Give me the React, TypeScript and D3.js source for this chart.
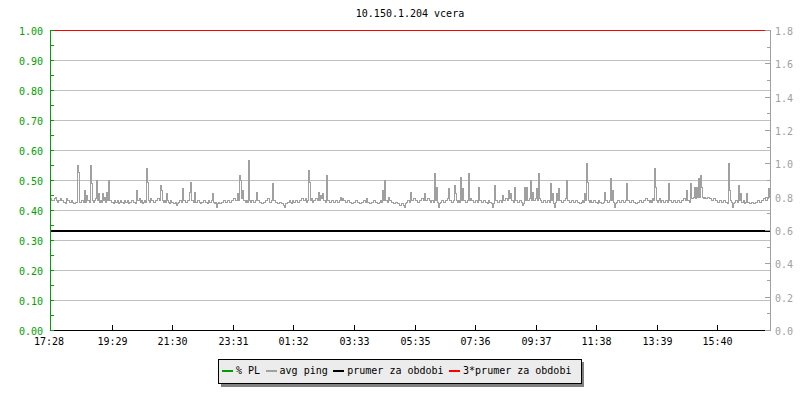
import React from "react";
import * as d3 from "d3";

// avg ping (ms, right axis), one value per 2 minutes starting 17:25:36
const PING: number[] = [
  0.79,0.78,0.78,0.78,0.79,0.80,0.78,0.77,0.78,0.78,0.79,0.78,0.78,0.77,0.77,0.76,0.79,0.78,0.78,0.77,0.77,0.78,0.77,0.76,0.76,0.77,0.77,0.99,0.95,0.77,0.77,0.78,0.78,0.77,0.84,0.77,0.81,0.78,0.78,0.77,
  0.99,0.88,0.78,0.77,0.78,0.79,0.90,0.78,0.82,0.77,0.78,0.77,0.82,0.78,0.80,0.77,0.83,0.78,0.90,0.78,0.78,0.77,0.77,0.76,0.78,0.77,0.77,0.78,0.76,0.77,0.78,0.77,0.77,0.76,0.78,0.77,0.77,0.78,0.76,0.77,
  0.77,0.78,0.78,0.77,0.77,0.76,0.84,0.78,0.78,0.79,0.77,0.78,0.76,0.77,0.78,0.77,0.97,0.89,0.78,0.77,0.79,0.78,0.78,0.77,0.77,0.78,0.78,0.79,0.79,0.78,0.87,0.84,0.78,0.77,0.78,0.77,0.82,0.78,0.77,0.76,
  0.78,0.77,0.77,0.76,0.76,0.77,0.75,0.76,0.77,0.78,0.78,0.77,0.85,0.78,0.78,0.77,0.77,0.78,0.78,0.83,0.89,0.78,0.78,0.77,0.83,0.77,0.77,0.78,0.78,0.77,0.76,0.77,0.77,0.78,0.78,0.77,0.77,0.76,0.78,0.77,
  0.77,0.78,0.82,0.77,0.76,0.77,0.74,0.76,0.77,0.76,0.76,0.77,0.77,0.78,0.78,0.77,0.77,0.78,0.78,0.77,0.77,0.78,0.78,0.79,0.79,0.78,0.78,0.82,0.78,0.93,0.90,0.79,0.84,0.78,0.78,0.77,0.78,0.77,1.02,0.78,
  0.77,0.78,0.78,0.77,0.77,0.78,0.83,0.78,0.78,0.77,0.77,0.76,0.76,0.77,0.77,0.78,0.78,0.79,0.79,0.77,0.77,0.78,0.88,0.78,0.78,0.77,0.77,0.76,0.76,0.77,0.77,0.76,0.76,0.75,0.74,0.76,0.76,0.77,0.77,0.78,
  0.77,0.76,0.78,0.77,0.77,0.78,0.78,0.77,0.77,0.78,0.78,0.79,0.79,0.78,0.78,0.79,0.77,0.78,0.96,0.89,0.78,0.79,0.77,0.78,0.78,0.79,0.79,0.78,0.83,0.78,0.81,0.79,0.82,0.78,0.78,0.77,0.93,0.78,0.78,0.77,
  0.77,0.78,0.78,0.77,0.77,0.78,0.78,0.77,0.77,0.78,0.80,0.78,0.79,0.78,0.78,0.77,0.77,0.78,0.78,0.77,0.77,0.76,0.76,0.77,0.77,0.78,0.78,0.77,0.77,0.76,0.76,0.77,0.77,0.78,0.78,0.77,0.79,0.77,0.77,0.76,
  0.76,0.77,0.77,0.78,0.78,0.77,0.77,0.76,0.76,0.77,0.78,0.77,0.84,0.78,0.90,0.78,0.78,0.77,0.80,0.78,0.78,0.77,0.77,0.76,0.76,0.77,0.77,0.76,0.76,0.75,0.75,0.76,0.76,0.75,0.74,0.76,0.77,0.78,0.78,0.77,
  0.83,0.78,0.78,0.79,0.79,0.78,0.78,0.77,0.77,0.78,0.78,0.79,0.79,0.78,0.82,0.78,0.78,0.79,0.79,0.78,0.77,0.78,0.78,0.77,0.94,0.78,0.86,0.77,0.74,0.76,0.77,0.78,0.78,0.77,0.77,0.78,0.78,0.79,0.85,0.78,
  0.78,0.77,0.77,0.78,0.87,0.82,0.78,0.77,0.78,0.77,0.92,0.78,0.85,0.78,0.78,0.77,0.77,0.78,0.94,0.78,0.79,0.78,0.78,0.77,0.77,0.78,0.78,0.77,0.86,0.78,0.78,0.77,0.77,0.78,0.78,0.77,0.77,0.76,0.78,0.77,
  0.77,0.76,0.74,0.76,0.87,0.78,0.78,0.77,0.77,0.78,0.78,0.77,0.81,0.78,0.78,0.79,0.79,0.78,0.84,0.79,0.82,0.78,0.78,0.77,0.86,0.78,0.78,0.77,0.77,0.78,0.78,0.77,0.75,0.76,0.86,0.78,0.86,0.78,0.78,0.79,
  0.90,0.78,0.83,0.78,0.78,0.79,0.85,0.78,0.94,0.79,0.78,0.77,0.77,0.78,0.78,0.77,0.77,0.78,0.78,0.77,0.88,0.78,0.82,0.76,0.74,0.77,0.82,0.78,0.85,0.78,0.78,0.77,0.77,0.78,0.78,0.79,0.90,0.78,0.78,0.77,
  0.77,0.78,0.78,0.77,0.77,0.78,0.78,0.77,0.77,0.76,0.76,0.77,0.78,0.77,0.82,0.78,1.00,0.89,0.78,0.77,0.78,0.77,0.77,0.78,0.78,0.77,0.77,0.76,0.78,0.77,0.77,0.76,0.76,0.77,0.83,0.78,0.78,0.77,0.77,0.78,
  0.91,0.78,0.84,0.77,0.74,0.76,0.77,0.78,0.78,0.77,0.77,0.78,0.78,0.77,0.77,0.78,0.88,0.78,0.78,0.77,0.77,0.78,0.78,0.77,0.77,0.76,0.76,0.77,0.77,0.78,0.78,0.77,0.77,0.78,0.78,0.79,0.79,0.78,0.78,0.77,
  0.78,0.77,0.79,0.78,0.97,0.86,0.78,0.77,0.78,0.79,0.77,0.78,0.78,0.77,0.77,0.78,0.78,0.77,0.88,0.78,0.78,0.77,0.77,0.78,0.78,0.77,0.77,0.78,0.78,0.77,0.77,0.78,0.78,0.79,0.79,0.78,0.84,0.78,0.78,0.77,
  0.88,0.79,0.79,0.80,0.86,0.79,0.86,0.80,0.91,0.80,0.93,0.86,0.80,0.79,0.80,0.79,0.79,0.80,0.80,0.79,0.79,0.78,0.78,0.79,0.79,0.78,0.78,0.77,0.77,0.78,0.78,0.77,0.77,0.78,0.78,0.77,0.77,0.76,1.00,0.84,
  0.78,0.77,0.74,0.76,0.77,0.78,0.78,0.77,0.87,0.78,0.82,0.77,0.77,0.78,0.76,0.77,0.82,0.77,0.77,0.76,0.76,0.77,0.77,0.76,0.76,0.77,0.77,0.78,0.78,0.77,0.77,0.78,0.78,0.79,0.79,0.78,0.78,0.79,0.85,0.80,
];

const PRUMER = 0.33; // prumer za obdobi, left-axis units
const TRIPLE_PRUMER = 1.0; // 3*prumer za obdobi, left-axis units (top edge)
const X_TICK_LABELS = ["17:28","19:29","21:30","23:31","01:32","03:33","05:35","07:36","09:37","11:38","13:39","15:40"];
const LEFT_TICKS = [0, 0.1, 0.2, 0.3, 0.4, 0.5, 0.6, 0.7, 0.8, 0.9, 1.0];
const RIGHT_TICKS = [0, 0.2, 0.4, 0.6, 0.8, 1.0, 1.2, 1.4, 1.6, 1.8];
const LEGEND_LABELS = ["% PL", "avg ping", "prumer za obdobi", "3*prumer za obdobi"];
const LEGEND_COLORS = ["#00a000", "#a0a0a0", "#000000", "#ff0000"];
const TITLE = "10.150.1.204 vcera";

const START = new Date(2024, 0, 1, 17, 25, 36);
const STEP_MS = 2 * 60 * 1000;
const END = new Date(START.getTime() + 24 * 3600 * 1000);

export default function App() {
  const L = 50, R = 770, T = 30, B = 330;
  const font = "'DejaVu Sans Mono', monospace";
  const x = d3.scaleTime().domain([START, END]).range([L, R]);
  const yL = d3.scaleLinear().domain([0, 1]).range([B, T]).clamp(true);
  const yR = d3.scaleLinear().domain([0, 1.8]).range([B, T]);

  const pts = PING.map((v, i) => ({ t: new Date(START.getTime() + i * STEP_MS), v }));
  const line = d3
    .line<{ t: Date; v: number }>()
    .x((d) => Math.round(x(d.t)) + 0.5)
    .y((d) => Math.round(yR(d.v)) + 0.5)
    .curve(d3.curveStepAfter);

  const tickDate = (s: string) => {
    const [h, m] = s.split(":").map(Number);
    const d = new Date(2024, 0, 1, h, m, 0);
    if (h < 17) d.setDate(2);
    return d;
  };

  const minorLeft = d3.range(0, 1.0001, 0.05);
  const minorRight = d3.range(0.1, 1.8, 0.2);

  // legend layout
  const charW = 6.02;
  const legX = 218, legY = 359, legH = 24;
  let cx = legX + 4;
  let lastEnd = cx;
  const items = LEGEND_LABELS.map((label, i) => {
    const sx = cx;
    const tx = sx + 14;
    lastEnd = tx + label.length * charW;
    cx = lastEnd + 5.5;
    return { label, color: LEGEND_COLORS[i], sx, tx };
  });
  const legW = lastEnd + 10 - legX;

  return (
    <svg
      width={800}
      height={400}
      style={{ position: "absolute", left: 0, top: 0, background: "#fff" }}
      fontFamily={font}
      fontSize={10}
    >
      <rect x={0} y={0} width={800} height={400} fill="#fff" />
      <text x={(L + R) / 2} y={17} textAnchor="middle" fill="#000">{TITLE}</text>

      {/* grid */}
      <g shapeRendering="crispEdges">
        {LEFT_TICKS.filter((t) => t > 0 && t < 1).map((t) => (
          <line key={t} x1={L} x2={R} y1={yL(t) + 0.5} y2={yL(t) + 0.5} stroke="#c0c0c0" />
        ))}
      </g>

      {/* mean lines */}
      <g shapeRendering="crispEdges">
        <line x1={L} x2={R} y1={yL(PRUMER)} y2={yL(PRUMER)} stroke="#000" strokeWidth={2} />
        <line x1={L} x2={R} y1={yL(TRIPLE_PRUMER) + 0.5} y2={yL(TRIPLE_PRUMER) + 0.5} stroke="#ff0000" strokeWidth={1} />
      </g>

      {/* data */}
      <path d={line(pts) || ""} fill="none" stroke="#a0a0a0" strokeWidth={1} shapeRendering="crispEdges" />

      {/* bottom axis */}
      <g shapeRendering="crispEdges">
        <line x1={L} x2={R} y1={B + 0.5} y2={B + 0.5} stroke="#000" />
        {X_TICK_LABELS.map((s, i) => {
          const xp = i === 0 ? L : Math.round(x(tickDate(s))) + 0.5;
          return (
            <g key={s}>
              {i > 0 && <line x1={xp} x2={xp} y1={B - 5} y2={B} stroke="#000" />}
              <text x={i === 0 ? L - 1 : xp} y={B + 15} textAnchor="middle" fill="#000">{s}</text>
            </g>
          );
        })}
      </g>

      {/* left axis */}
      <g shapeRendering="crispEdges">
        <line x1={L + 0.5} x2={L + 0.5} y1={T} y2={B + 1} stroke="#00a000" />
        {minorLeft.map((t) => (
          <line key={t} x1={L} x2={L + 4} y1={Math.round(yL(t)) + 0.5} y2={Math.round(yL(t)) + 0.5} stroke="#00a000" />
        ))}
        {LEFT_TICKS.map((t) => (
          <text key={t} x={43} y={yL(t) + 5} textAnchor="end" fill="#00a000">{t.toFixed(2)}</text>
        ))}
      </g>

      {/* right axis */}
      <g shapeRendering="crispEdges">
        <line x1={R + 0.5} x2={R + 0.5} y1={T} y2={B + 1} stroke="#a0a0a0" />
        {RIGHT_TICKS.map((t) => (
          <line key={t} x1={R - 5} x2={R} y1={Math.round(yR(t)) + 0.5} y2={Math.round(yR(t)) + 0.5} stroke="#a0a0a0" />
        ))}
        {minorRight.map((t) => (
          <line key={t} x1={R - 3} x2={R} y1={Math.round(yR(t)) + 0.5} y2={Math.round(yR(t)) + 0.5} stroke="#a0a0a0" />
        ))}
        {RIGHT_TICKS.map((t) => (
          <text key={t} x={775} y={yR(t) + 5} fill="#a0a0a0">{t.toFixed(1)}</text>
        ))}
      </g>

      {/* legend */}
      <g>
        <rect x={legX + 3} y={legY + 3} width={legW} height={legH + 1} fill="#808080" shapeRendering="crispEdges" />
        <rect x={legX + 0.5} y={legY + 0.5} width={legW} height={legH} fill="#ececec" stroke="#000" shapeRendering="crispEdges" />
        {items.map((it) => (
          <g key={it.label}>
            <rect x={it.sx} y={legY + 11} width={11} height={2} fill={it.color} shapeRendering="crispEdges" />
            <text x={it.tx} y={legY + 15} fill="#000">{it.label}</text>
          </g>
        ))}
      </g>
    </svg>
  );
}
